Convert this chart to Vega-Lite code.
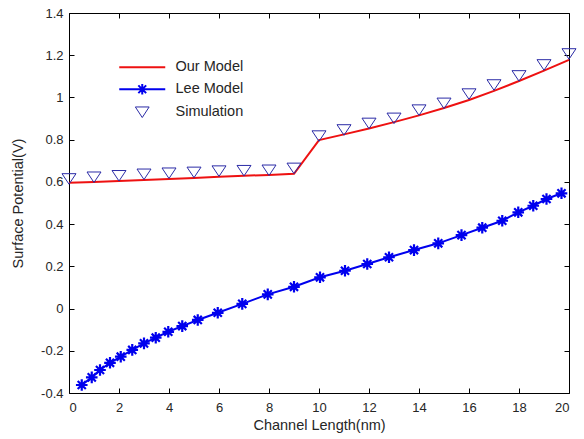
{
  "$schema": "https://vega.github.io/schema/vega-lite/v6.json",
  "width": 500,
  "height": 380,
  "autosize": {"type": "none"},
  "padding": {"left": 69, "top": 13, "right": 15, "bottom": 46},
  "background": "white",
  "config": {
    "view": {"stroke": "#000000", "strokeWidth": 1},
    "font": "Liberation Sans",
    "axis": {
      "labelFont": "Liberation Sans",
      "titleFont": "Liberation Sans",
      "labelFontSize": 13,
      "titleFontSize": 14.5,
      "titleFontWeight": "normal",
      "labelColor": "#262626",
      "titleColor": "#262626",
      "domainColor": "#000000",
      "tickColor": "#000000",
      "tickSize": -5,
      "grid": false
    }
  },
  "data": {
    "values": [
      {"series": "Our Model", "x": 0, "y": 0.596},
      {"series": "Our Model", "x": 1, "y": 0.600},
      {"series": "Our Model", "x": 2, "y": 0.604},
      {"series": "Our Model", "x": 3, "y": 0.609},
      {"series": "Our Model", "x": 4, "y": 0.614},
      {"series": "Our Model", "x": 5, "y": 0.619},
      {"series": "Our Model", "x": 6, "y": 0.624},
      {"series": "Our Model", "x": 7, "y": 0.629},
      {"series": "Our Model", "x": 8, "y": 0.633},
      {"series": "Our Model", "x": 9, "y": 0.638},
      {"series": "Our Model", "x": 10, "y": 0.798},
      {"series": "Our Model", "x": 11, "y": 0.825},
      {"series": "Our Model", "x": 12, "y": 0.853},
      {"series": "Our Model", "x": 13, "y": 0.883},
      {"series": "Our Model", "x": 14, "y": 0.915},
      {"series": "Our Model", "x": 15, "y": 0.950},
      {"series": "Our Model", "x": 16, "y": 0.988},
      {"series": "Our Model", "x": 17, "y": 1.031},
      {"series": "Our Model", "x": 18, "y": 1.078},
      {"series": "Our Model", "x": 19, "y": 1.127},
      {"series": "Our Model", "x": 20, "y": 1.178},
      {"series": "Lee Model", "x": 0.51, "y": -0.362},
      {"series": "Lee Model", "x": 0.91, "y": -0.326},
      {"series": "Lee Model", "x": 1.24, "y": -0.291},
      {"series": "Lee Model", "x": 1.64, "y": -0.257},
      {"series": "Lee Model", "x": 2.07, "y": -0.228},
      {"series": "Lee Model", "x": 2.53, "y": -0.196},
      {"series": "Lee Model", "x": 3.0, "y": -0.165},
      {"series": "Lee Model", "x": 3.47, "y": -0.138},
      {"series": "Lee Model", "x": 3.97, "y": -0.110},
      {"series": "Lee Model", "x": 4.53, "y": -0.083},
      {"series": "Lee Model", "x": 5.15, "y": -0.054},
      {"series": "Lee Model", "x": 5.95, "y": -0.020},
      {"series": "Lee Model", "x": 6.93, "y": 0.022},
      {"series": "Lee Model", "x": 7.95, "y": 0.067},
      {"series": "Lee Model", "x": 9.0, "y": 0.103},
      {"series": "Lee Model", "x": 10.04, "y": 0.148},
      {"series": "Lee Model", "x": 11.04, "y": 0.179},
      {"series": "Lee Model", "x": 11.93, "y": 0.211},
      {"series": "Lee Model", "x": 12.8, "y": 0.243},
      {"series": "Lee Model", "x": 13.8, "y": 0.277},
      {"series": "Lee Model", "x": 14.77, "y": 0.309},
      {"series": "Lee Model", "x": 15.7, "y": 0.348},
      {"series": "Lee Model", "x": 16.53, "y": 0.383},
      {"series": "Lee Model", "x": 17.33, "y": 0.416},
      {"series": "Lee Model", "x": 17.97, "y": 0.456},
      {"series": "Lee Model", "x": 18.57, "y": 0.487},
      {"series": "Lee Model", "x": 19.1, "y": 0.519},
      {"series": "Lee Model", "x": 19.7, "y": 0.546},
      {"series": "Simulation", "x": 0, "y": 0.614},
      {"series": "Simulation", "x": 1, "y": 0.622},
      {"series": "Simulation", "x": 2, "y": 0.629},
      {"series": "Simulation", "x": 3, "y": 0.636},
      {"series": "Simulation", "x": 4, "y": 0.641},
      {"series": "Simulation", "x": 5, "y": 0.645},
      {"series": "Simulation", "x": 6, "y": 0.651},
      {"series": "Simulation", "x": 7, "y": 0.653},
      {"series": "Simulation", "x": 8, "y": 0.655},
      {"series": "Simulation", "x": 9, "y": 0.664},
      {"series": "Simulation", "x": 10, "y": 0.817},
      {"series": "Simulation", "x": 11, "y": 0.846},
      {"series": "Simulation", "x": 12, "y": 0.877},
      {"series": "Simulation", "x": 13, "y": 0.901},
      {"series": "Simulation", "x": 14, "y": 0.940},
      {"series": "Simulation", "x": 15, "y": 0.972},
      {"series": "Simulation", "x": 16, "y": 1.016},
      {"series": "Simulation", "x": 17, "y": 1.059},
      {"series": "Simulation", "x": 18, "y": 1.102},
      {"series": "Simulation", "x": 19, "y": 1.154},
      {"series": "Simulation", "x": 20, "y": 1.206}
    ]
  },
  "resolve": {"axis": {"x": "independent", "y": "independent"}},
  "layer": [
    {
      "transform": [{"filter": "datum.series === 'Lee Model'"}],
      "mark": {"type": "line", "strokeWidth": 2},
      "encoding": {
        "x": {"field": "x", "type": "quantitative", "scale": {"domain": [0, 20], "nice": false},
          "axis": {"orient": "bottom", "title": "Channel Length(nm)", "values": [0,2,4,6,8,10,12,14,16,18,20], "labelPadding": 13, "titlePadding": 4, "domain": false}},
        "y": {"field": "y", "type": "quantitative", "scale": {"domain": [-0.4, 1.4], "nice": false, "zero": false},
          "axis": {"orient": "left", "title": "Surface Potential(V)", "values": [-0.4,-0.2,0,0.2,0.4,0.6,0.8,1,1.2,1.4], "labelExpr": "'' + datum.value", "labelPadding": 11, "titlePadding": 15, "domain": false}},
        "color": {"field": "series", "type": "nominal",
          "scale": {"domain": ["Our Model", "Lee Model", "Simulation"], "range": ["#ee1111", "#0000ee", "#2b2ba6"]},
          "legend": {
            "title": null, "orient": "none", "legendX": 66, "legendY": 47,
            "padding": 0, "symbolSize": 2116, "symbolType": "stroke", "symbolStrokeWidth": 2,
            "labelFont": "Liberation Sans", "labelFontSize": 14.5, "labelColor": "#262626",
            "labelOffset": 26, "rowPadding": 5,
            "encode": {
              "symbols": {
                "update": {
                  "shape": {"signal": "datum.value === 'Our Model' ? 'M-1,0L1,0' : datum.value === 'Lee Model' ? 'M-1,0L1,0M-0.23,0L0.23,0M0,-0.23L0,0.23M-0.17,-0.17L0.17,0.17M-0.17,0.17L0.17,-0.17' : 'M-0.3,-0.23L0.3,-0.23L0,0.23Z'"},
                  "stroke": {"signal": "datum.value === 'Our Model' ? '#ee1111' : datum.value === 'Lee Model' ? '#0000ee' : '#2b2ba6'"},
                  "strokeWidth": {"signal": "datum.value === 'Simulation' ? 1 : 2"},
                  "fill": {"value": "transparent"}
                }
              }
            }
          }}
      }
    },
    {
      "transform": [{"filter": "datum.series === 'Lee Model'"}],
      "mark": {"type": "point", "filled": false, "strokeWidth": 2.2, "opacity": 1,
        "shape": "M-1,0L1,0M0,-1L0,1M-0.7,-0.7L0.7,0.7M-0.7,0.7L0.7,-0.7", "size": 135},
      "encoding": {
        "x": {"field": "x", "type": "quantitative", "axis": null},
        "y": {"field": "y", "type": "quantitative", "axis": null},
        "color": {"field": "series", "type": "nominal", "legend": null}
      }
    },
    {
      "transform": [{"filter": "datum.series === 'Our Model'"}],
      "mark": {"type": "line", "strokeWidth": 2},
      "encoding": {
        "x": {"field": "x", "type": "quantitative",
          "axis": {"orient": "top", "title": null, "labels": false, "values": [0,2,4,6,8,10,12,14,16,18,20], "domain": false}},
        "y": {"field": "y", "type": "quantitative",
          "axis": {"orient": "right", "title": null, "labels": false, "values": [-0.4,-0.2,0,0.2,0.4,0.6,0.8,1,1.2,1.4], "domain": false}},
        "color": {"field": "series", "type": "nominal", "legend": null}
      }
    },
    {
      "transform": [{"filter": "datum.series === 'Simulation'"}],
      "mark": {"type": "point", "filled": false, "strokeWidth": 1, "opacity": 1,
        "shape": "M-1,-0.75L1,-0.75L0,0.75Z", "size": 196},
      "encoding": {
        "x": {"field": "x", "type": "quantitative", "axis": null},
        "y": {"field": "y", "type": "quantitative", "axis": null},
        "color": {"field": "series", "type": "nominal", "legend": null}
      }
    }
  ]
}
